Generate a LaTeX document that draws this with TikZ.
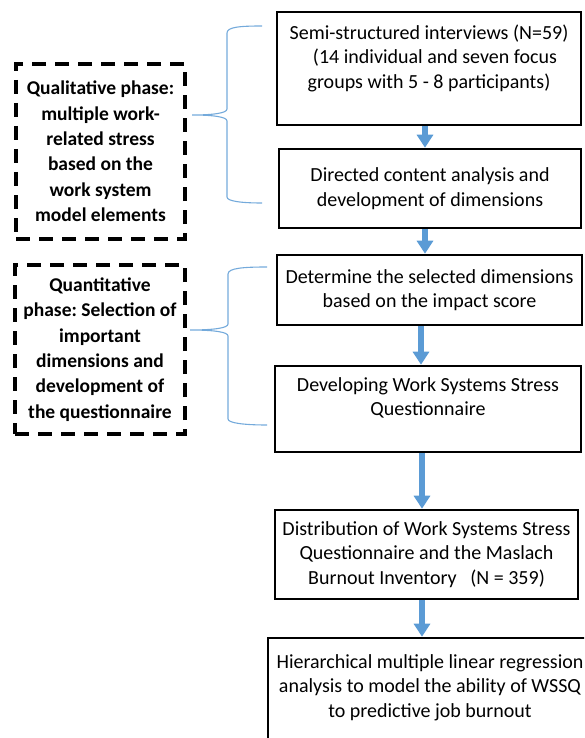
\documentclass[tikz,border=0pt]{standalone}
\usepackage{fontspec}
\setmainfont{Carlito}
\usetikzlibrary{arrows.meta}
\definecolor{flowblue}{HTML}{5B9BD5}
\frenchspacing

\begin{document}
\begin{tikzpicture}[x=1pt, y=-1pt,
    stage/.style={draw, line width=2.6pt, align=center, inner sep=0pt,
      font=\fontsize{20}{24.4}\selectfont},
    phase/.style={draw, line width=3.6pt, dash pattern=on 14pt off 9pt,
      align=center, inner sep=0pt, font=\bfseries\fontsize{19.5}{25.4}\selectfont},
    flow/.style={flowblue, line width=6pt, -{Triangle[width=16pt,length=13pt]}},
    bracket/.style={flowblue!85, line width=1.1pt}]
    \useasboundingbox (0,0) rectangle (584,738);
    \clip (0,0) rectangle (584,738);

    % Stages on the right
    \node[stage, minimum width=304pt, minimum height=113pt] (interviews) at (429,68.5)
      {Semi-structured interviews (N=59)\\ \hspace*{0.6em}(14 individual and seven focus\\ groups with 5 - 8 participants)\\ ~};
    \node[stage, minimum width=302pt, minimum height=79pt] (content) at (430,188.5)
      {Directed content analysis and\\ development of dimensions};
    \node[stage, minimum width=305pt, minimum height=70pt] (impact) at (429.5,290)
      {Determine the selected dimensions\\ based on the impact score};
    \node[stage, minimum width=306pt, minimum height=86pt] (develop) at (428,409)
      {Developing Work Systems Stress\\ Questionnaire\\ ~};
    \node[stage, minimum width=303pt, minimum height=89pt] (distrib) at (426.5,554.5)
      {Distribution of Work Systems Stress\\ Questionnaire and the Maslach\\ Burnout Inventory\ \ \ (N = 359)};
    \node[stage, minimum width=324pt, minimum height=120pt] (regress) at (430,698)
      {Hierarchical multiple linear regression\\ analysis to model the ability of WSSQ\\ to predictive job burnout\\ ~};

    % Phases on the left
    \node[phase, minimum width=169pt, minimum height=175pt] (qual) at (100.5,151.5)
      {Qualitative phase:\\ multiple work-\\ related stress\\ based on the\\ work system\\ model elements};
    \node[phase, minimum width=170pt, minimum height=169pt] (quant) at (100,349.5)
      {Quantitative\\ phase: Selection of\\ important\\ dimensions and\\ development of\\ the questionnaire};

    % Arrows between stages
    \draw[flow] ([xshift=-4pt]interviews.south) -- ([xshift=-5pt]content.north);
    \draw[flow] ([xshift=-5pt]content.south) -- ([xshift=-4.5pt]impact.north);
    \draw[flow] ([xshift=-8.5pt]impact.south) -- ([xshift=-7pt]develop.north);
    \draw[flow] ([xshift=-6pt]develop.south) -- ([xshift=-4.5pt]distrib.north);
    \draw[flow] ([xshift=-4.5pt]distrib.south) -- ([xshift=-8pt]regress.north);

    % Braces
    \coordinate (qualtip) at (192,115);
    \coordinate (qualtop) at (262,26);
    \coordinate (qualbot) at (262,203);
    \draw[bracket] (qualtop) .. controls (240,26) and (227,27) .. (227,33) -- (227,109)
      .. controls (227,113) and (214,115) .. (qualtip)
      .. controls (214,115) and (227,117) .. (227,121) -- (227,197)
      .. controls (227,201) and (240,203) .. (qualbot);

    \coordinate (quanttip) at (190,330);
    \coordinate (quanttop) at (267,267);
    \coordinate (quantbot) at (267,425);
    \draw[bracket] (quanttop) .. controls (244,267) and (228,268) .. (228,274) -- (228,324)
      .. controls (228,328) and (214,330) .. (quanttip)
      .. controls (214,330) and (228,332) .. (228,336) -- (228,419)
      .. controls (228,423) and (244,425) .. (quantbot);
\end{tikzpicture}
\end{document}
